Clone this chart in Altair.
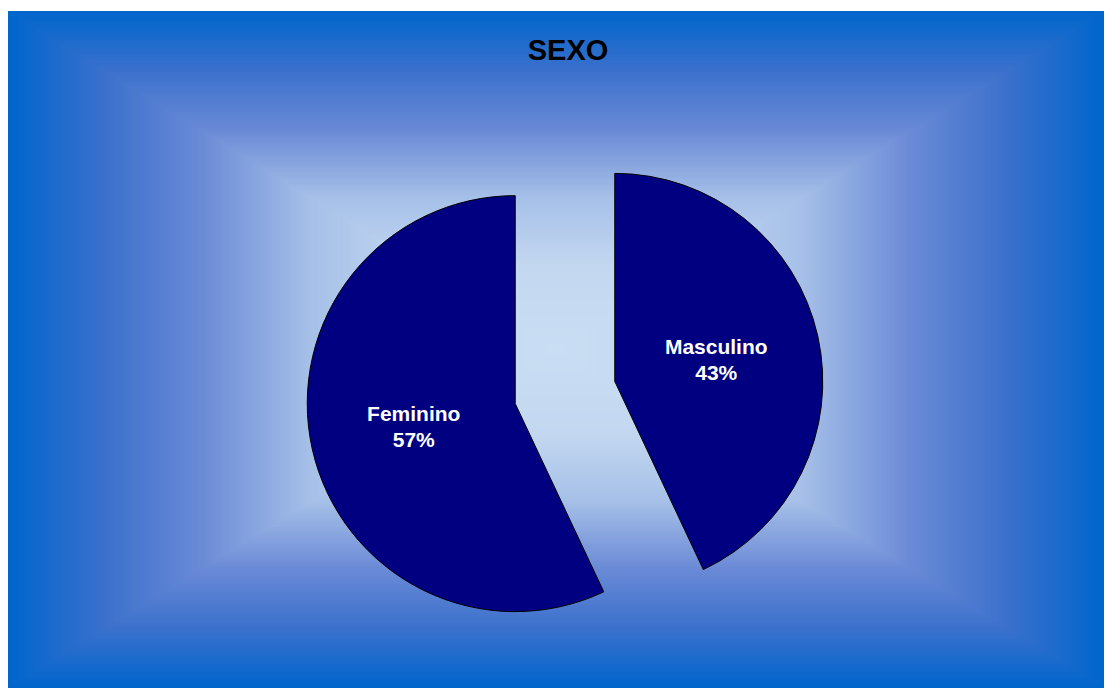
import altair as alt
import pandas as pd

# ---- data ----
categories = ["Masculino", "Feminino"]
values = [43, 57]
title_text = "SEXO"

# gradient stops (fraction from outer edge toward centre -> colour)
grad_stops = [0, 0.17, 0.35, 0.55, 0.75, 1]
grad_colors = ["#0066CC", "#3A70CC", "#6A8AD6", "#A6C0E8", "#C3D7F0", "#C9DDF3"]

# ---- layout constants (pixels inside the view) ----
W, H = 1096, 677
BG_CX, BG_CY = W / 2, H / 2
PIE_CX, PIE_CY = 557, 381.5
EXPLODE = 51
R = 208
LABEL_R = 104

df = pd.DataFrame({"cat": categories, "value": values, "order": list(range(len(categories)))})

# background: nested rectangles forming a box gradient
bg = (
    alt.Chart(alt.sequence(0, 1, 0.005, as_="t"))
    .transform_calculate(
        x1=f"{BG_CX} - (1 - datum.t) * {BG_CX}",
        x2=f"{BG_CX} + (1 - datum.t) * {BG_CX}",
        y1=f"{BG_CY} - (1 - datum.t) * {BG_CY}",
        y2=f"{BG_CY} + (1 - datum.t) * {BG_CY}",
    )
    .mark_rect(strokeWidth=0)
    .encode(
        x=alt.X("x1:Q", scale=None, axis=None),
        x2="x2:Q",
        y=alt.Y("y1:Q", scale=None, axis=None),
        y2="y2:Q",
        color=alt.Color(
            "t:Q",
            scale=alt.Scale(domain=grad_stops, range=grad_colors, interpolate="rgb"),
            legend=None,
        ),
    )
)

base = (
    alt.Chart(df)
    .transform_joinaggregate(total="sum(value)")
    .transform_window(cum="sum(value)", sort=[alt.SortField("order")], frame=[None, 0])
    .transform_calculate(
        a0="2 * PI * (datum.cum - datum.value) / datum.total",
        a1="2 * PI * datum.cum / datum.total",
    )
    .transform_calculate(mid="(datum.a0 + datum.a1) / 2")
    .transform_calculate(
        cx=f"{PIE_CX} + {EXPLODE} * sin(datum.mid)",
        cy=f"{PIE_CY} - {EXPLODE} * cos(datum.mid)",
    )
    .transform_calculate(
        lx=f"datum.cx + {LABEL_R} * sin(datum.mid)",
        ly=f"datum.cy - {LABEL_R} * cos(datum.mid)",
        label="datum.cat + '\\n' + round(100 * datum.value / datum.total) + '%'",
    )
)

arcs = base.mark_arc(fill="#000080", stroke="#000000", strokeWidth=1, radius=R).encode(
    x=alt.X("cx:Q", scale=None, axis=None),
    y=alt.Y("cy:Q", scale=None, axis=None),
    theta=alt.Theta("a0:Q", scale=None),
    theta2="a1:Q",
)

labels = base.mark_text(
    font="Liberation Sans",
    fontSize=21,
    fontWeight="bold",
    color="white",
    lineBreak="\n",
    lineHeight=26,
    align="center",
    baseline="middle",
    dy=-11,
).encode(
    x=alt.X("lx:Q", scale=None, axis=None),
    y=alt.Y("ly:Q", scale=None, axis=None),
    text="label:N",
)

title = (
    alt.Chart(pd.DataFrame({"title": [title_text]}))
    .mark_text(
        font="Liberation Sans",
        fontSize=29,
        fontWeight="bold",
        color="black",
        align="center",
        baseline="alphabetic",
    )
    .encode(x=alt.value(560), y=alt.value(49), text="title:N")
)

chart = (
    alt.layer(bg, arcs, labels, title)
    .properties(
        width=W,
        height=H,
        padding={"left": 0, "top": 3, "right": 0, "bottom": 0},
        autosize="none",
        background="white",
    )
    .configure_view(stroke=None)
)

chart.save("out.html", embed_options={"renderer": "svg", "actions": False})
